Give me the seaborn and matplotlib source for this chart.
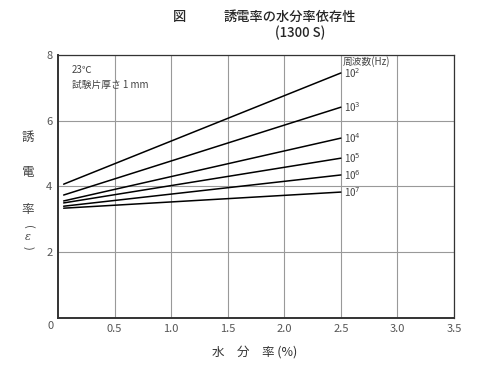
import pandas as pd
import matplotlib
matplotlib.use("Agg")
import matplotlib.pyplot as plt
import seaborn as sns

# moisture content (%) at the two ends of each line
moisture = [0.05, 2.5]
freq_labels = ["10$^2$", "10$^3$", "10$^4$", "10$^5$", "10$^6$", "10$^7$"]
eps_start = [4.07, 3.74, 3.56, 3.50, 3.40, 3.34]
eps_end = [7.45, 6.41, 5.47, 4.86, 4.35, 3.83]

rows = []
for lab, s, e in zip(freq_labels, eps_start, eps_end):
    rows.append({"freq": lab, "moisture": moisture[0], "eps": s})
    rows.append({"freq": lab, "moisture": moisture[1], "eps": e})
df = pd.DataFrame(rows)

sns.set_style("white")
plt.rcParams['font.family'] = ['Noto Sans CJK JP', 'DejaVu Sans']

fig = plt.figure(figsize=(5, 3.66), dpi=100)
ax = fig.add_axes([0.116, 0.131, 0.792, 0.719])

sns.lineplot(data=df, x="moisture", y="eps", hue="freq",
             palette=["black"] * len(freq_labels), linewidth=1.1,
             legend=False, ax=ax)

ax.set_xlim(0, 3.5)
ax.set_ylim(0, 8)
ax.set_xticks([0.5, 1.0, 1.5, 2.0, 2.5, 3.0, 3.5])
ax.set_xticklabels(["0.5", "1.0", "1.5", "2.0", "2.5", "3.0", "3.5"])
ax.set_yticks([2, 4, 6, 8])
ax.grid(True, color="#999999", linewidth=0.8)
ax.tick_params(length=0, labelsize=8, labelcolor="#555555", pad=4)
for sp in ax.spines.values():
    sp.set_color("#333333")
    sp.set_linewidth(0.9)
ax.spines["left"].set_linewidth(1.4)
ax.spines["bottom"].set_linewidth(1.4)
ax.set_xlabel("")
ax.set_ylabel("")
ax.text(-0.04, -0.1, "0", ha="right", va="top", fontsize=8, color="#555555")

# curve labels
for lab, e in zip(freq_labels, eps_end):
    ax.text(2.53, e, lab, fontsize=7, color="#444444", va="center", ha="left")
ax.text(2.52, 7.95, "周波数(Hz)", fontsize=7, color="#444444", va="top", ha="left")
ax.text(0.12, 7.7, "23℃", fontsize=7, color="#444444", va="top")
ax.text(0.12, 7.25, "試験片厚さ 1 mm", fontsize=7, color="#444444", va="top")

# titles
fig.text(0.36, 0.953, "図", fontsize=9.5, ha="center", va="center",
         fontweight="medium")
fig.text(0.58, 0.953, "誘電率の水分率依存性", fontsize=9.5, ha="center",
         va="center", fontweight="medium")
fig.text(0.6, 0.91, "(1300 S)", fontsize=9.5, ha="center", va="center",
         fontweight="medium")

# axis labels
fig.text(0.51, 0.037, "水　分　率 (%)", fontsize=9, ha="center", va="center",
         color="#333333")
for ch, yy in zip(["誘", "電", "率"], [137, 172, 210]):
    fig.text(0.056, 1 - yy / 366, ch, fontsize=9, ha="center", va="center",
             color="#444444")
fig.text(0.056, 1 - 227 / 366, "(", fontsize=8, ha="center", va="center",
         color="#444444", rotation=-90)
fig.text(0.056, 1 - 237 / 366, "ε", fontsize=8, ha="center", va="center",
         color="#444444", family=["DejaVu Serif"], style="italic")
fig.text(0.056, 1 - 248 / 366, ")", fontsize=8, ha="center", va="center",
         color="#444444", rotation=-90)

fig.savefig("out.png", dpi=100)
